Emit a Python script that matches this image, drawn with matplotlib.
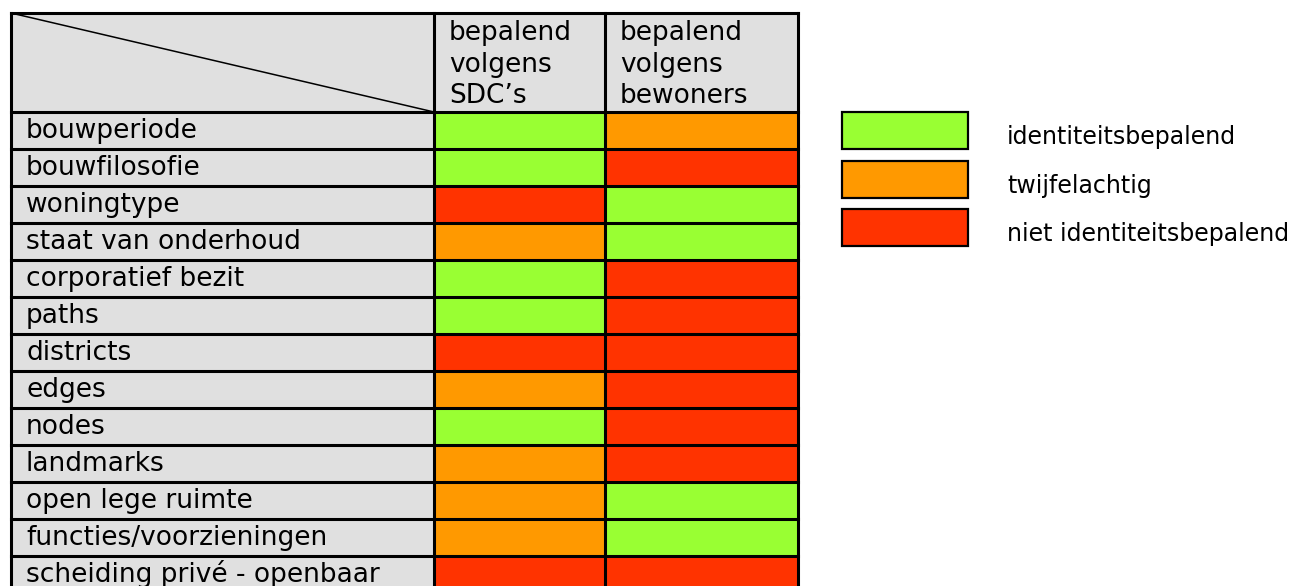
import matplotlib
matplotlib.use("Agg")
import matplotlib.pyplot as plt
from matplotlib.patches import Rectangle

# ---- data ----
row_labels = ["bouwperiode", "bouwfilosofie", "woningtype", "staat van onderhoud",
              "corporatief bezit", "paths", "districts", "edges", "nodes",
              "landmarks", "open lege ruimte", "functies/voorzieningen",
              "scheiding privé - openbaar"]
col_labels = ["bepalend\nvolgens\nSDC’s", "bepalend\nvolgens\nbewoners"]
# 2 = identiteitsbepalend, 1 = twijfelachtig, 0 = niet identiteitsbepalend
sdc_values = [2, 2, 0, 1, 2, 2, 0, 1, 2, 1, 1, 1, 0]
bewoners_values = [1, 0, 2, 2, 0, 0, 0, 0, 0, 0, 2, 2, 0]
legend_labels = ["identiteitsbepalend", "twijfelachtig", "niet identiteitsbepalend"]
legend_levels = [2, 1, 0]
level_colors = {2: "#99FF33", 1: "#FF9900", 0: "#FF3300"}

# ---- layout (pixels) ----
W, H = 1292, 586
fig = plt.figure(figsize=(W / 100, H / 100), dpi=100)
ax = fig.add_axes([0, 0, 1, 1])
ax.set_xlim(0, W)
ax.set_ylim(H, 0)
ax.axis("off")

left, top = 11, 13
col_x = [11, 434, 605, 798]
header_bottom = 112
row_h = 37
gray = "#E0E0E0"
lw = 2.2
fs = 19

# header
ax.add_patch(Rectangle((left, top), col_x[-1] - left, header_bottom - top,
                       facecolor=gray, edgecolor="none", zorder=1))
ax.plot([col_x[0], col_x[1]], [top, header_bottom], color="black", lw=1.1, zorder=3)
for j, lab in enumerate(col_labels):
    for k, line in enumerate(lab.split("\n")):
        ax.text(col_x[j + 1] + 15, 40 + k * 31.5, line, ha="left", va="baseline",
                fontsize=fs, family="DejaVu Sans", zorder=4)

# rows
series = [sdc_values, bewoners_values]
for i, lab in enumerate(row_labels):
    y0 = header_bottom + i * row_h
    ax.add_patch(Rectangle((col_x[0], y0), col_x[1] - col_x[0], row_h,
                           facecolor=gray, edgecolor="none", zorder=1))
    ax.text(col_x[0] + 15, y0 + 26, lab, ha="left", va="baseline",
            fontsize=fs, family="DejaVu Sans", zorder=4)
    for j, vals in enumerate(series):
        ax.add_patch(Rectangle((col_x[j + 1], y0), col_x[j + 2] - col_x[j + 1], row_h,
                               facecolor=level_colors[vals[i]], edgecolor="none", zorder=1))

bottom = header_bottom + len(row_labels) * row_h
# grid lines
for x in col_x:
    ax.plot([x, x], [top, bottom], color="black", lw=lw, zorder=3, solid_capstyle="projecting")
for k in range(len(row_labels) + 1):
    y = header_bottom + k * row_h
    ax.plot([col_x[0], col_x[-1]], [y, y], color="black", lw=lw, zorder=3,
            solid_capstyle="projecting")
ax.plot([col_x[0], col_x[-1]], [top, top], color="black", lw=lw, zorder=3,
        solid_capstyle="projecting")

# legend
lx, lw_box, lh_box = 842, 126, 37
ly0, lstep = 112, 48.5
for k, (lab, lev) in enumerate(zip(legend_labels, legend_levels)):
    y = ly0 + k * lstep
    ax.add_patch(Rectangle((lx, y), lw_box, lh_box, facecolor=level_colors[lev],
                           edgecolor="black", lw=1.6, zorder=2))
    ax.text(1007, y + 32, lab, ha="left", va="baseline",
            fontsize=17, family="DejaVu Sans", zorder=4)

fig.savefig("out.png", dpi=100)
